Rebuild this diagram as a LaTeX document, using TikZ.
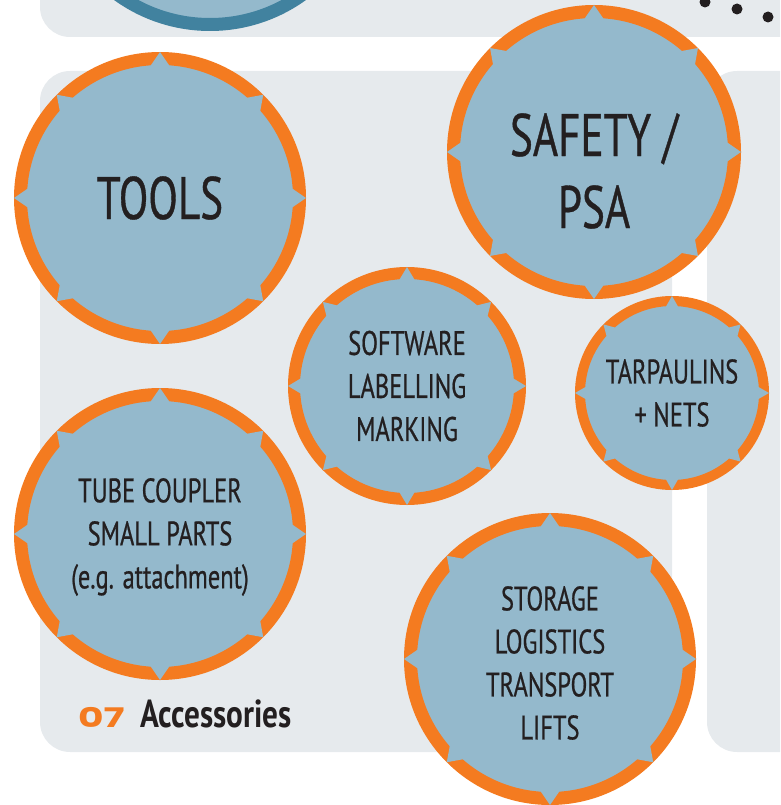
\documentclass[tikz,border=0pt]{standalone}
\usepackage{fontspec}
\setmainfont{PT Sans}[FakeStretch=0.72,FakeBold=0.6]
\newfontfamily\titlefont{PT Sans Bold}[FakeStretch=0.8]
\newfontfamily\numfont{Poppins}[FakeStretch=1.45]
\usetikzlibrary{calc}
\usetikzlibrary{positioning}
\definecolor{ringorange}{HTML}{F47B20}
\definecolor{ringteal}{HTML}{41829F}
\definecolor{badgeblue}{HTML}{94B9CC}
\definecolor{panelgray}{HTML}{E6EAED}
\definecolor{inkgray}{HTML}{231F20}
\tikzset{badge/.style={circle,draw=ringorange,fill=badgeblue,inner sep=0pt}}
\tikzset{bigtext/.style={text=inkgray,align=center,font=\fontsize{60}{72}\selectfont}}
\tikzset{smalltext/.style={text=inkgray,align=center,font=\fontsize{34}{43}\selectfont}}

% notches on the ring of a badge: node, outer radius, ring width
\newcommand{\notches}[3]{%
  \foreach \a in {0,45,...,315}
    \fill[badgeblue] ($(#1.center)+(\a:#2)$) -- ($(#1.center)+({\a+4.3}:{#2-#3-1})$) -- ($(#1.center)+({\a-4.3}:{#2-#3-1})$) -- cycle;%
}

\begin{document}
\begin{tikzpicture}[x=1pt,y=-1pt]
    \useasboundingbox (0,0) rectangle (780,805);
    \clip (0,0) rectangle (780,805);

    % Panels
    \fill[panelgray, rounded corners=30pt] (40,-60) rectangle (840,37);
    \fill[panelgray, rounded corners=30pt] (40,71) rectangle (672,752);
    \fill[panelgray, rounded corners=30pt] (707,71) rectangle (840,752);

    % Top badge (cut off)
    \node[circle, draw=ringteal, fill=badgeblue, line width=13pt, minimum size=315pt] (topbadge) at (210,-133) {};

    % Dots
    \fill[inkgray] (705,2) circle (5.5pt) (737,9) circle (5.5pt) (768,17) circle (5.5pt);

    % Tools
    \node[badge, line width=13pt, minimum size=279pt] (tools) at (160,198) {};
    \notches{tools}{146}{13}
    \node[bigtext] (toolstext) at (tools) {TOOLS};

    % Safety
    \node[badge, line width=13pt, minimum size=281pt] (safety) at (594,152) {};
    \notches{safety}{147}{13}
    \node[bigtext] (safetytext) at (594,171) {SAFETY /\\PSA};

    % Software
    \node[badge, line width=12pt, minimum size=226pt] (software) at (407,386) {};
    \notches{software}{119}{12}
    \node[smalltext] (softwaretext) at (software) {SOFTWARE\\LABELLING\\MARKING};

    % Tarpaulins
    \node[badge, line width=10pt, minimum size=184pt] (tarpaulins) at (672,393) {};
    \notches{tarpaulins}{97}{10}
    \node[smalltext] (tarpaulinstext) at (tarpaulins) {TARPAULINS\\+ NETS};

    % Tube coupler
    \node[badge, line width=13pt, minimum size=279pt] (coupler) at (160,534) {};
    \notches{coupler}{146}{13}
    \node[smalltext] (couplertext) at (160,537) {TUBE COUPLER\\SMALL PARTS\\(e.g. attachment)};

    % Storage
    \node[badge, line width=13pt, minimum size=279pt] (storage) at (550,659) {};
    \notches{storage}{146}{13}
    \node[smalltext] (storagetext) at (550,663) {STORAGE\\LOGISTICS\\TRANSPORT\\LIFTS};

    % Section title
    \node[anchor=base west, inner sep=0pt, text=ringorange, font=\numfont\bfseries\fontsize{27}{30}\selectfont] (secnum) at (78,727) {07};
    \node[base right=15pt of secnum, inner sep=0pt, text=inkgray, font=\titlefont\fontsize{39}{40}\selectfont] (sectitle) {Accessories};

\end{tikzpicture}
\end{document}
